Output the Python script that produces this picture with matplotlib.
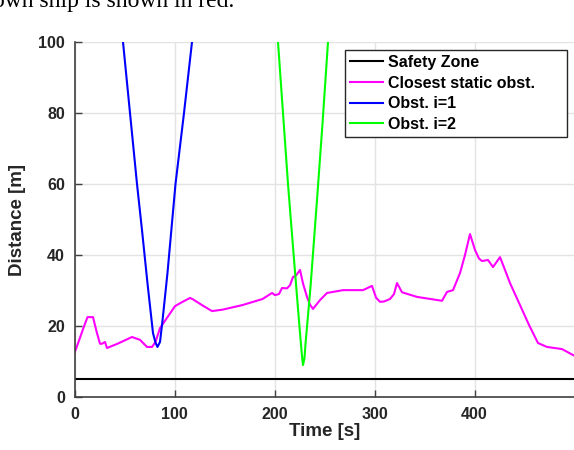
import numpy as np
import matplotlib
matplotlib.use('Agg')
from matplotlib import pyplot as plt

# closest static obstacle distance
t_static = [0, 4, 9, 13, 15.5, 18.5, 22, 25.5, 27.5, 30.5, 32.5, 43, 57.5,
            65.5, 72.5, 77.5, 81, 85.5, 93, 100.5, 108, 115.5, 118.5, 128,
            137.5, 148, 168, 188, 197.5, 200.5, 204.5, 207.5, 212.5, 215.5,
            218.5, 221.5, 225.5, 228.5, 232.5, 235.5, 238.5, 245.5, 252.5,
            268.5, 288.5, 297.5, 301.5, 305.5, 309.5, 315.5, 319.5, 322.5,
            327.5, 342.5, 367.5, 372.5, 378.5, 385.5, 390.5, 395.5, 400.5,
            404.5, 407.5, 413.5, 418.5, 425.5, 430.5, 435.5, 445.5, 454.5,
            463.5, 472.5, 487.5, 500]
d_static = [12.4, 15.5, 19.5, 22.5, 22.5, 22.5, 18.5, 15.0, 15.0, 15.5, 13.8,
            15.0, 16.9, 16.1, 14.1, 14.1, 15.5, 19.4, 22.5, 25.6, 26.8, 27.9,
            27.5, 25.8, 24.2, 24.6, 25.9, 27.6, 29.3, 28.7, 29.0, 30.7, 30.6,
            31.5, 33.8, 34.2, 35.8, 32.0, 28.2, 26.0, 24.8, 27.3, 29.3, 30.1,
            30.1, 31.3, 28.0, 26.8, 26.9, 27.6, 29.0, 32.1, 29.5, 28.2, 27.1,
            29.6, 30.1, 34.9, 40.0, 45.9, 41.4, 39.0, 38.3, 38.6, 36.6, 39.4,
            35.8, 32.1, 25.9, 20.3, 15.2, 14.1, 13.5, 11.6]

# obstacle i=1
t_obs1 = [46, 48.5, 55.5, 62.5, 67.5, 73, 78.5, 81, 83, 85.5, 88, 93, 101,
          109.5, 117.5, 120]
d_obs1 = [107, 100, 80, 60, 47, 32, 18, 15.3, 14.1, 15.5, 21.5, 35, 60, 80,
          100, 107]

# obstacle i=2
t_obs2 = [201.5, 203.5, 208.5, 213.5, 220, 225.5, 227.5, 228.5, 230, 231,
          236, 242.5, 248, 253.5, 255.5]
d_obs2 = [107, 100, 80, 60, 37, 18, 11.5, 9.0, 11.0, 15, 31, 55.5, 77, 100,
          107]

safety_zone = 5.0

fig = plt.figure(figsize=(5.74, 4.5), dpi=100)
ax = fig.add_axes([74.5/574, 1 - 397/450, 500/574, 355/450])

fig.text(-0.012, 1 - 7/450, 'own ship is shown in red.', family='Liberation Serif',
         fontsize=17, va='baseline', ha='left')

ax.plot([0, 500], [safety_zone, safety_zone], color='black', lw=1.5,
        label='Safety Zone')
ax.plot(t_static, d_static, color=(1, 0, 1), lw=1.5,
        label='Closest static obst.')
ax.plot(t_obs1, d_obs1, color=(0, 0, 1), lw=1.5, label='Obst. i=1')
ax.plot(t_obs2, d_obs2, color=(0, 1, 0), lw=1.5, label='Obst. i=2')

ax.set_xlim(0, 500)
ax.set_ylim(0, 100)
ax.set_xticks([0, 100, 200, 300, 400])
ax.set_yticks([0, 20, 40, 60, 80, 100])
ax.grid(True, color='#e3e3e3', lw=1)
ax.set_axisbelow(True)
for s in ['top', 'right']:
    ax.spines[s].set_visible(False)
for s in ['left', 'bottom']:
    ax.spines[s].set_color('#404040')
    ax.spines[s].set_linewidth(1.2)
ax.tick_params(direction='in', length=5, width=1, color='#404040',
               labelsize=11.5, pad=7)
for lab in ax.get_xticklabels() + ax.get_yticklabels():
    lab.set_fontweight('bold')
    lab.set_family('Liberation Sans')
    lab.set_color('#262626')

ax.set_xlabel('Time [s]', fontsize=13.5, fontweight='bold',
              family='Liberation Sans', color='#262626', labelpad=1)
ax.set_ylabel('Distance [m]', fontsize=13.5, fontweight='bold',
              family='Liberation Sans', color='#262626', labelpad=9)

leg = ax.legend(loc='upper left',
                bbox_to_anchor=((345 - 74.5)/500, 0, (567 - 345)/500, (397 - 50)/355),
                mode='expand',
                prop={'family': 'Liberation Sans', 'weight': 'bold', 'size': 11.5},
                frameon=True, fancybox=False, handlelength=2.1,
                labelspacing=0.36, borderpad=0.3, handletextpad=0.3,
                borderaxespad=0)
leg.get_frame().set_edgecolor('#262626')
leg.get_frame().set_linewidth(1.0)
leg.get_frame().set_alpha(1)

fig.savefig('out.png', dpi=100)
